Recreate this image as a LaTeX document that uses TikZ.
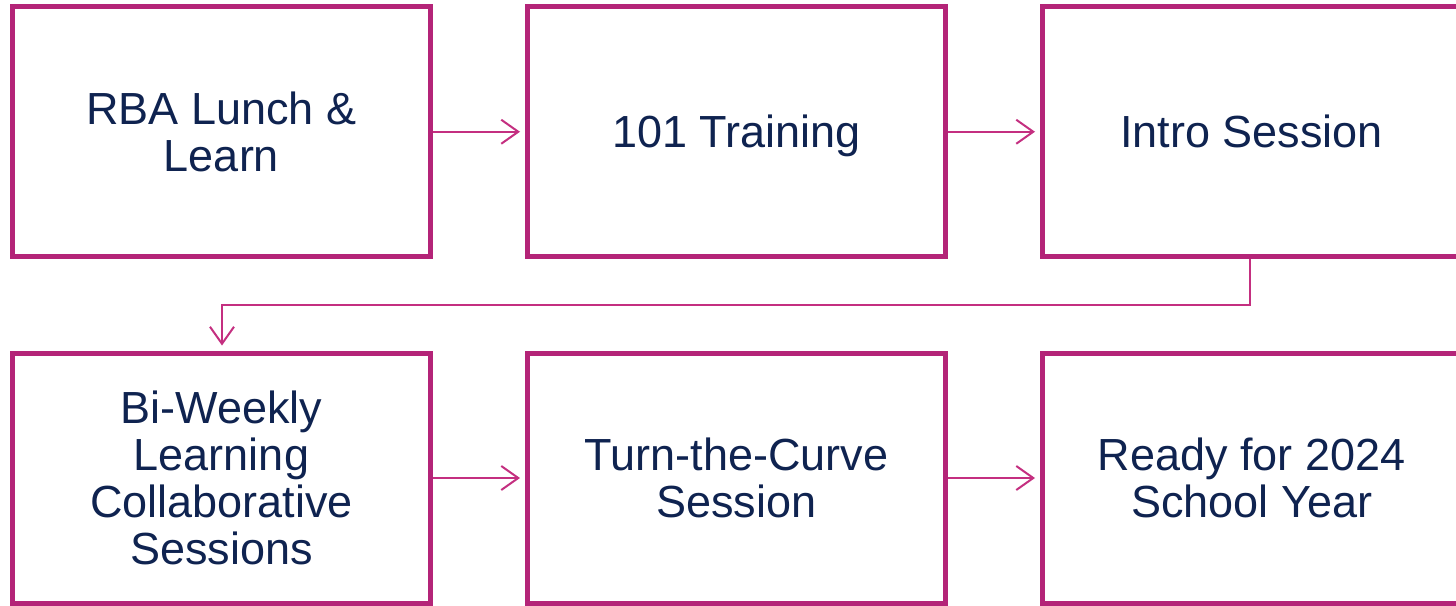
\documentclass[tikz,border=0pt]{standalone}
\usepackage{fontspec}
\setmainfont{Liberation Sans}
\usetikzlibrary{arrows.meta}
\definecolor{boxcol}{HTML}{B42478}
\definecolor{arrcol}{HTML}{C42F80}
\definecolor{txtcol}{HTML}{0F2350}
\tikzset{
  stepbox/.style={draw=boxcol, line width=5pt, fill=white, minimum width=418pt, minimum height=250pt,
    inner sep=0pt, align=center, text=txtcol, font=\fontsize{45}{47}\selectfont},
  flow/.style={draw=arrcol, line width=2pt, -{Straight Barb[length=17pt,width=24pt,line width=2pt]}, shorten >=5pt}
}
\begin{document}
\begin{tikzpicture}[x=1pt,y=-1pt]
\useasboundingbox (0,0) rectangle (1456,605);
\clip (0,0) rectangle (1456,605);
\node[stepbox] (a) at (221.5,131.75) {RBA Lunch \&\\Learn};
\node[stepbox] (b) at (736.5,131.75) {101 Trainin\smash{g}};
\node[stepbox] (c) at (1251.5,131.75) {Intro Session};
\node[stepbox] (d) at (221.5,478) {Bi-Weekly\\Learning\\Collaborative\\Sessions};
\node[stepbox] (e) at (736.5,478) {Turn-the-Curve\\Session};
\node[stepbox] (f) at (1251.5,478) {Ready for 2024\\School Year};
\coordinate (k1) at (1250,305);
\coordinate (k2) at (222,305);
\draw[flow] (a.east) -- (b.west);
\draw[flow] (b.east) -- (c.west);
\draw[flow] (c.south -| k1) -- (k1) -- (k2) -- (k2 |- d.north);
\draw[flow] (d.east) -- (e.west);
\draw[flow] (e.east) -- (f.west);
\end{tikzpicture}
\end{document}
